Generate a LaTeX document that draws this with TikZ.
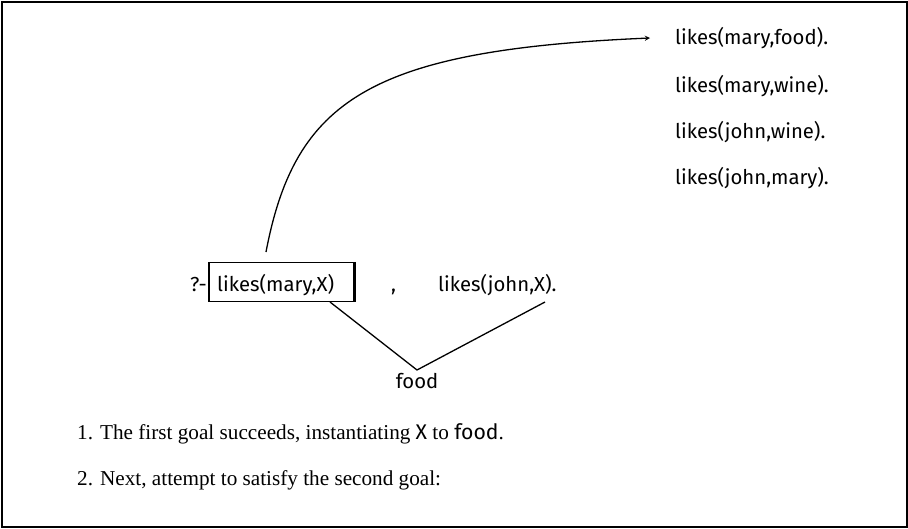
\documentclass[tikz,border=0pt]{standalone}
\usepackage{fontspec}
\setmainfont{Liberation Serif}
\newfontfamily\codefont{Fira Sans}
\begin{document}
\begin{tikzpicture}[x=1pt,y=-1pt,
  code/.style={font=\codefont\fontsize{20.3}{24}\selectfont, inner sep=0pt, anchor=base west},
  body/.style={font=\fontsize{21.2}{25}\selectfont, inner sep=0pt, anchor=base west},
  conn/.style={line width=1.3pt},
  goalbox/.style={draw, line width=1.3pt, inner sep=0pt}]
\useasboundingbox (0,0) rectangle (908,528);
\draw[line width=2pt] (1.5,1.5) rectangle (906.5,526.5) ;
% facts
\node[code] (f1) at (675,44) {likes(mary,food).};
\node[code] (f2) at (675,92) {likes(mary,wine).};
\node[code] (f3) at (675,138) {likes(john,wine).};
\node[code] (f4) at (675,184) {likes(john,mary).};
% query
\node[code] (q) at (190,291) {?-};
\node[code] (g1) at (217,291) {likes(mary,X)};
\node[goalbox, minimum width=145pt, minimum height=39pt] (box) at (281.5,282) {};
\draw[line width=2.4pt] (box.north east) -- (box.south east);
\node[code] (comma) at (391,291) {,};
\node[code] (g2) at (438,291) {likes(john,X).};
\node[code, anchor=base] (food) at (417,388) {food};
\coordinate (as) at (266,252);
\coordinate (ae) at (650,38);
\draw[conn, ->, >=stealth] (as) .. controls (295,100) and (370,50) .. (ae);
\coordinate (x1) at (330,302);
\coordinate (x2) at (545,302);
\coordinate (v) at (417,370);
\draw[conn] (x1) -- (v) -- (x2);
% text
\node[body] (t1) at (77,439) {1. The first goal succeeds, instantiating {\codefont X} to {\codefont food}.};
\node[body] (t2) at (77,485) {2. Next, attempt to satisfy the second goal:};
\end{tikzpicture}
\end{document}
